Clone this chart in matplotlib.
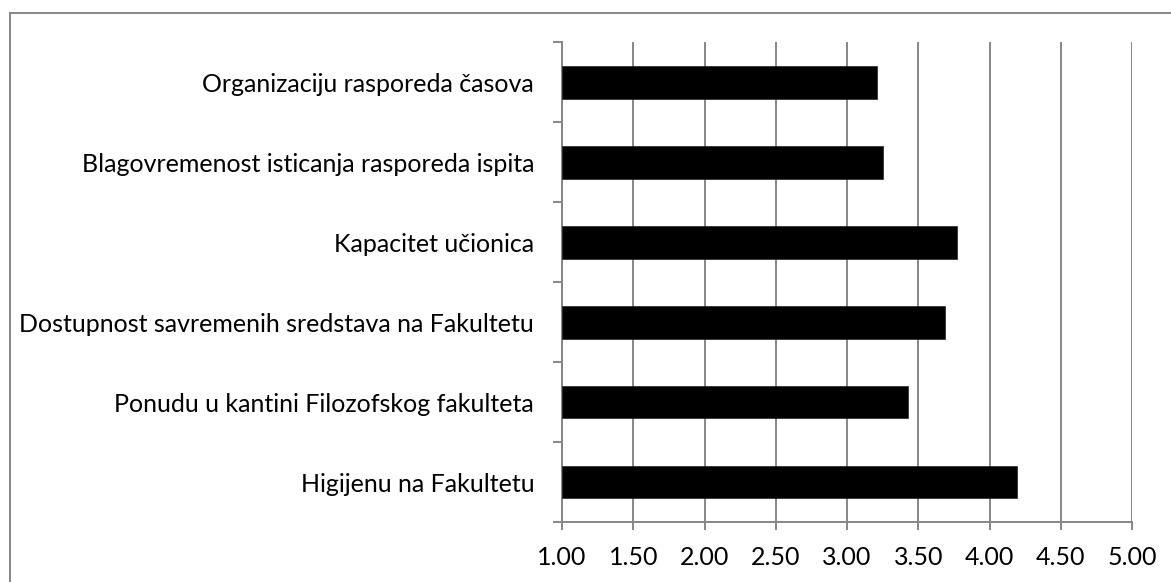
import matplotlib
matplotlib.use("Agg")
import matplotlib.pyplot as plt
from matplotlib.patches import Rectangle
import numpy as np

categories = [
    "Organizaciju rasporeda časova",
    "Blagovremenost isticanja rasporeda ispita",
    "Kapacitet učionica",
    "Dostupnost savremenih sredstava na Fakultetu",
    "Ponudu u kantini Filozofskog fakulteta",
    "Higijenu na Fakultetu",
]
values = [3.21, 3.25, 3.77, 3.69, 3.43, 4.19]
xticks = [1.00, 1.50, 2.00, 2.50, 3.00, 3.50, 4.00, 4.50, 5.00]
xticklabels = ["1.00", "1.50", "2.00", "2.50", "3.00", "3.50", "4.00", "4.50", "5.00"]

W, H = 1171, 582
DPI = 100
plt.rcParams['font.family'] = ['Lato', 'DejaVu Sans']
FS = 18
GRAY = "#868686"

fig = plt.figure(figsize=(W / DPI, H / DPI), dpi=DPI)
left, right, top, bottom = 562, 1132, 42.3, 522
ax = fig.add_axes([left / W, 1 - bottom / H, (right - left) / W, (bottom - top) / H])

n = len(categories)
ypos = np.arange(n)[::-1]  # first category at top
base = xticks[0]
ax.barh(ypos, [v - base for v in values], left=base, height=0.41,
        color="black", edgecolor="#222222", linewidth=0.5, zorder=3)

ax.set_xlim(xticks[0], xticks[-1])
ax.set_ylim(-0.5, n - 0.5)
ax.set_xticks(xticks)
ax.set_xticklabels(xticklabels, fontsize=FS, color="#000000")
ax.set_yticks(ypos)
ax.set_yticklabels(categories, fontsize=FS, color="#000000")
ax.set_yticks(np.arange(-0.5, n, 1.0), minor=True)

ax.tick_params(axis="y", which="major", length=0, pad=20)
ax.tick_params(axis="y", which="minor", length=6.5, width=1.4, color=GRAY, direction="out")
ax.tick_params(axis="x", which="major", length=6, width=1.4, color=GRAY, direction="out", pad=11.5)

ax.grid(axis="x", color=GRAY, linewidth=1.4, zorder=0)
ax.set_axisbelow(True)
for s in ["top", "right"]:
    ax.spines[s].set_visible(False)
for s in ["left", "bottom"]:
    ax.spines[s].set_color(GRAY)
    ax.spines[s].set_linewidth(1.4)

# outer chart border
border = Rectangle((10 / W, -0.1), 1.2, 1 - 13 / H + 0.1, transform=fig.transFigure,
                   fill=False, edgecolor=GRAY, linewidth=1.4, clip_on=False)
fig.patches.append(border)

fig.savefig("out.png", dpi=DPI, facecolor="white")
